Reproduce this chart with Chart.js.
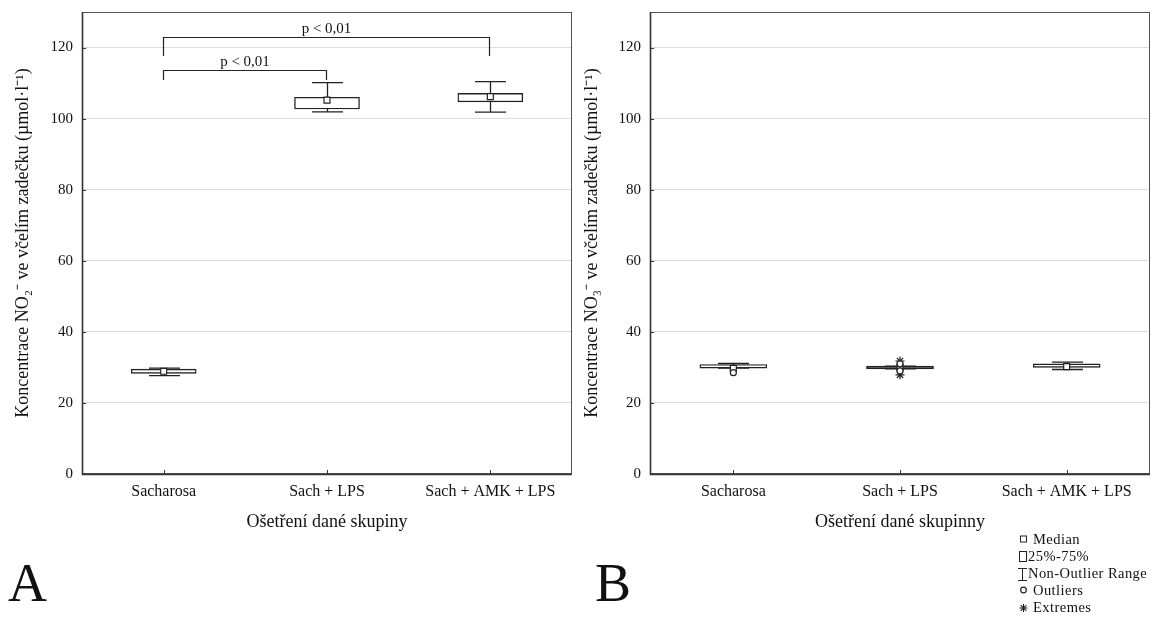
<!DOCTYPE html>
<html><head><meta charset="utf-8">
<script src="https://cdn.jsdelivr.net/npm/chart.js@4"></script>
<style>
html,body{margin:0;padding:0;background:#fff;width:1165px;height:621px;overflow:hidden;font-family:'Liberation Serif',serif;color:#111}
#cA{position:absolute;left:0;top:0}
#cB{position:absolute;left:568px;top:0}
.panel{position:absolute;font-size:54px;line-height:1;color:#111}
.leg{position:absolute;font-size:14.5px;line-height:15px;letter-spacing:0.45px;white-space:nowrap;color:#111}
#legIcons{position:absolute;left:1010px;top:530px}
</style></head><body>
<canvas id="cA" width="580" height="536"></canvas>
<canvas id="cB" width="590" height="536"></canvas>
<div class="panel" style="left:8px;top:556px">A</div>
<div class="panel" style="left:595px;top:556px">B</div>
<svg id="legIcons" width="24" height="86" viewBox="0 0 24 86">
  <rect x="10.5" y="6" width="6" height="6" fill="#fff" stroke="#222" stroke-width="1"/>
  <rect x="9.5" y="21.5" width="7" height="10" fill="#fff" stroke="#222" stroke-width="1"/>
  <line x1="8" y1="38.5" x2="17" y2="38.5" stroke="#222" stroke-width="1"/>
  <line x1="12.5" y1="38.5" x2="12.5" y2="50.5" stroke="#222" stroke-width="1"/>
  <line x1="8" y1="50.5" x2="17" y2="50.5" stroke="#222" stroke-width="1"/>
  <circle cx="13.5" cy="60" r="2.8" fill="#fff" stroke="#222" stroke-width="1.2"/>
  <g stroke="#222" stroke-width="1.1">
    <line x1="13.5" y1="74" x2="13.5" y2="82"/>
    <line x1="9.5" y1="78" x2="17.5" y2="78"/>
    <line x1="10.7" y1="75.2" x2="16.3" y2="80.8"/>
    <line x1="16.3" y1="75.2" x2="10.7" y2="80.8"/>
  </g>
</svg>
<div class="leg" style="left:1033px;top:532px">Median</div>
<div class="leg" style="left:1028px;top:549px">25%-75%</div>
<div class="leg" style="left:1028px;top:566px">Non-Outlier Range</div>
<div class="leg" style="left:1033px;top:583px">Outliers</div>
<div class="leg" style="left:1033px;top:600px">Extremes</div>
<script>
// ---------- data ----------
const categories = ['Sacharosa', 'Sach + LPS', 'Sach + AMK + LPS'];
const yTicks = [0, 20, 40, 60, 80, 100, 120];

// Panel A: NO2-
const aQ1 = [28.3, 102.7, 104.7];
const aQ3 = [29.5, 106.0, 107.1];
const aMedian = [28.9, 105.2, 106.2];
const aLow = [27.7, 101.9, 101.8];
const aHigh = [29.8, 110.1, 110.4];
const aOutliers = [];
const aExtremes = [];

// Panel B: NO3-
const bQ1 = [29.8, 29.6, 30.0];
const bQ3 = [30.8, 30.35, 31.0];
const bMedian = [29.7, 30.0, 30.2];
const bLow = [29.8, 29.6, 29.4];
const bHigh = [31.1, 30.35, 31.5];
const bOutliers = [{x: 'Sacharosa', y: 28.5}, {x: 'Sach + LPS', y: 31.0}, {x: 'Sach + LPS', y: 29.0}];
const bExtremes = [{x: 'Sach + LPS', y: 31.8}, {x: 'Sach + LPS', y: 27.9}];

// significance brackets (panel A)
const bracketFrom = [0, 0];
const bracketTo = [1, 2];
const bracketLevel = [113.7, 122.9];
const bracketFoot = [110.9, 117.6];
const bracketText = ['p < 0,01', 'p < 0,01'];

const titleA = 'Koncentrace NO₂⁻ ve včelím zadečku (µmol·l⁻¹)';
const titleB = 'Koncentrace NO₃⁻ ve včelím zadečku (µmol·l⁻¹)';
const xTitleA = 'Ošetření dané skupiny';
const xTitleB = 'Ošetření dané skupinny';

// ---------- drawing ----------
const FONT = "'Liberation Serif', 'Times New Roman', serif";
const INK = '#222';

const whiskerPlugin = {
  id: 'whiskers',
  beforeDatasetsDraw(chart, args, opts) {
    const {ctx, scales: {x, y}} = chart;
    ctx.save();
    ctx.strokeStyle = INK;
    ctx.lineWidth = 1.3;
    opts.low.forEach((lo, i) => {
      const px = Math.round(x.getPixelForValue(i)) + 0.5;
      const yl = y.getPixelForValue(lo), yh = y.getPixelForValue(opts.high[i]);
      const hw = opts.capHalf;
      ctx.beginPath();
      ctx.moveTo(px, yl); ctx.lineTo(px, yh);
      ctx.moveTo(px - hw, yl); ctx.lineTo(px + hw, yl);
      ctx.moveTo(px - hw, yh); ctx.lineTo(px + hw, yh);
      ctx.stroke();
    });
    ctx.restore();
  }
};

const framePlugin = {
  id: 'frame',
  afterDraw(chart, args, opts) {
    const {ctx, chartArea: {left, right, top, bottom}, scales: {x, y}} = chart;
    ctx.save();
    ctx.strokeStyle = '#555';
    ctx.lineWidth = 1;
    ctx.strokeRect(left + 0.5, top + 0.5, right - left - 1, bottom - top - 1);
    ctx.strokeStyle = '#333';
    ctx.lineWidth = 1.6;
    ctx.beginPath();
    ctx.moveTo(left + 0.5, top); ctx.lineTo(left + 0.5, bottom + 0.5); ctx.lineTo(right, bottom + 0.5);
    ctx.stroke();
    ctx.lineWidth = 1;
    ctx.beginPath();
    yTicks.forEach(v => {
      const py = Math.round(y.getPixelForValue(v)) + 0.5;
      if (v === 0) return;
      ctx.moveTo(left, py); ctx.lineTo(left + 4, py);
    });
    categories.forEach((c, i) => {
      const px = Math.round(x.getPixelForValue(i)) + 0.5;
      ctx.moveTo(px, bottom); ctx.lineTo(px, bottom - 4);
    });
    ctx.stroke();
    // brackets
    if (opts.brackets) {
      ctx.strokeStyle = INK;
      ctx.lineWidth = 1.2;
      ctx.fillStyle = '#111';
      ctx.font = '15px ' + FONT;
      ctx.textAlign = 'center';
      ctx.textBaseline = 'alphabetic';
      bracketFrom.forEach((f, k) => {
        const x1 = Math.round(x.getPixelForValue(f)) - 0.5;
        const x2 = Math.round(x.getPixelForValue(bracketTo[k])) - 0.5;
        const yl = Math.round(y.getPixelForValue(bracketLevel[k])) + 0.5;
        const yf = y.getPixelForValue(bracketFoot[k]);
        ctx.beginPath();
        ctx.moveTo(x1, yf); ctx.lineTo(x1, yl); ctx.lineTo(x2, yl); ctx.lineTo(x2, yf);
        ctx.stroke();
        ctx.fillText(bracketText[k], (x1 + x2) / 2, yl - 5);
      });
    }
    ctx.restore();
  }
};

function makeChart(id, d) {
  return new Chart(document.getElementById(id), {
    type: 'bar',
    data: {
      labels: categories,
      datasets: [
        {
          type: 'bar',
          data: d.q1.map((v, i) => [v, d.q3[i]]),
          backgroundColor: d.boxFill,
          borderColor: INK,
          borderWidth: 1.4,
          borderSkipped: false,
          barThickness: d.boxW,
          order: 3
        },
        {
          type: 'line',
          data: d.median,
          showLine: false,
          pointStyle: 'rect',
          pointRadius: 4.2,
          pointBackgroundColor: '#fff',
          pointBorderColor: INK,
          pointBorderWidth: 1.2,
          order: 1
        },
        {
          type: 'line',
          data: d.outliers,
          showLine: false,
          pointStyle: 'circle',
          pointRadius: 3,
          pointBackgroundColor: '#fff',
          pointBorderColor: INK,
          pointBorderWidth: 1.2,
          order: 0
        },
        {
          type: 'line',
          data: d.extremes,
          showLine: false,
          pointStyle: 'star',
          pointRadius: 4.5,
          pointBorderColor: INK,
          pointBorderWidth: 1.2,
          order: 0
        }
      ]
    },
    options: {
      responsive: false,
      animation: false,
      layout: {padding: {top: 12, right: 8, left: 0, bottom: 0}},
      plugins: {
        legend: {display: false},
        tooltip: {enabled: false},
        whiskers: {low: d.low, high: d.high, capHalf: 15.5},
        frame: {brackets: d.brackets}
      },
      scales: {
        x: {
          grid: {display: false, drawTicks: false},
          border: {display: false},
          ticks: {font: {family: FONT, size: 16}, color: '#111', padding: 8, maxRotation: 0},
          title: {display: true, text: d.xTitle, font: {family: FONT, size: 18}, color: '#111', padding: {top: 0, bottom: 3}},
          afterFit(s) { s.height = 62; s.paddingLeft = 0; s.paddingRight = 0; }
        },
        y: {
          min: 0, max: 130,
          afterBuildTicks(s) { s.ticks = yTicks.map(v => ({value: v})); },
          grid: {color: '#dcdcdc', lineWidth: 1, drawTicks: false},
          border: {display: false},
          ticks: {font: {family: FONT, size: 15}, color: '#111', padding: 9},
          title: {display: true, text: d.yTitle, font: {family: FONT, size: 18}, color: '#111', padding: {top: d.yTitlePad, bottom: 0}},
          afterFit(s) { s.width = 82; s.paddingTop = 0; s.paddingBottom = 0; }
        }
      }
    },
    plugins: [whiskerPlugin, framePlugin]
  });
}

makeChart('cA', {q1: aQ1, q3: aQ3, median: aMedian, low: aLow, high: aHigh, outliers: aOutliers, extremes: aExtremes,
  boxW: 65, boxFill: ['#fff', '#fff', '#fff'], xTitle: xTitleA, yTitle: titleA, yTitlePad: 12, brackets: true});
makeChart('cB', {q1: bQ1, q3: bQ3, median: bMedian, low: bLow, high: bHigh, outliers: bOutliers, extremes: bExtremes,
  boxW: 67, boxFill: ['#fff', INK, '#fff'], xTitle: xTitleB, yTitle: titleB, yTitlePad: 13, brackets: false});
</script>
</body></html>
